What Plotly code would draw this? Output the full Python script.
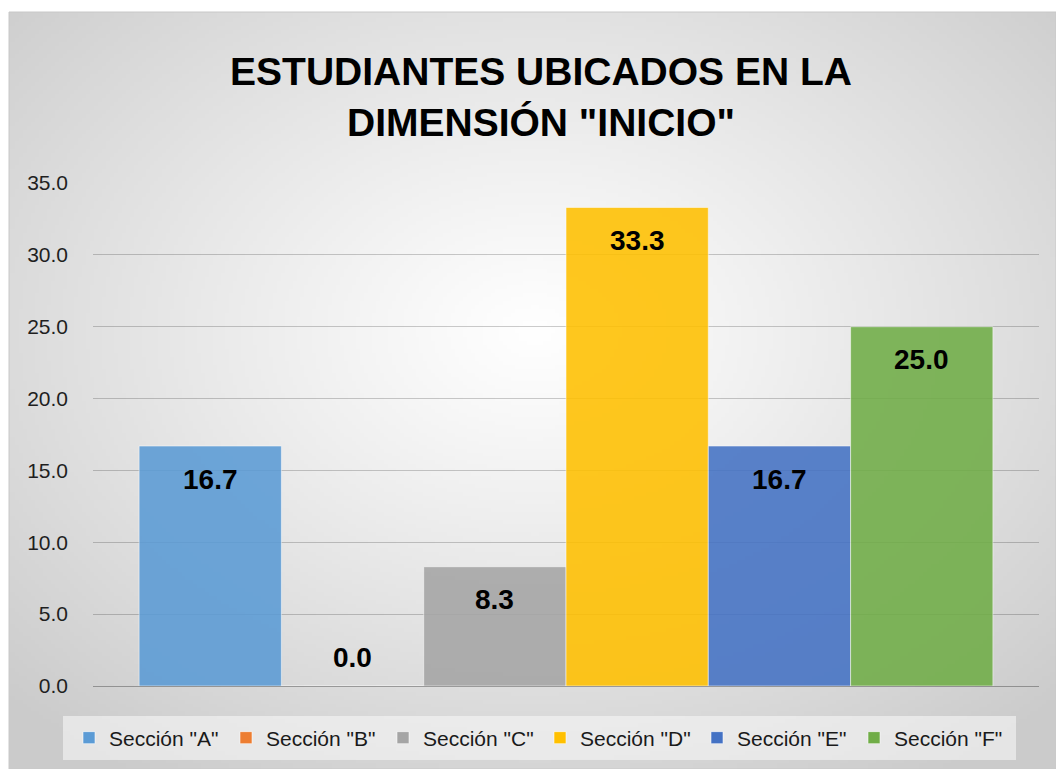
import base64, struct, zlib
import numpy as np
import plotly.graph_objects as go

# ---------------- data ----------------
series_names = ['Sección "A"', 'Sección "B"', 'Sección "C"', 'Sección "D"', 'Sección "E"', 'Sección "F"']
series_values = [16.7, 0.0, 8.3, 33.3, 16.7, 25.0]
series_colors = ["#5B9BD5", "#ED7D31", "#A5A5A5", "#FFC000", "#4472C4", "#70AD47"]
y_ticks = [0, 5, 10, 15, 20, 25, 30, 35]
y_tick_labels = ["0.0", "5.0", "10.0", "15.0", "20.0", "25.0", "30.0", "35.0"]
title_text = 'ESTUDIANTES UBICADOS EN LA<br>DIMENSIÓN "INICIO"'

W, H = 1056, 769

# ---------------- radial gradient background (PNG data URI) ----------------
def make_png(arr):
    h, w, _ = arr.shape
    raw = b"".join(b"\x00" + arr[r].tobytes() for r in range(h))
    def chunk(tag, data):
        c = struct.pack(">I", len(data)) + tag + data
        return c + struct.pack(">I", zlib.crc32(tag + data) & 0xFFFFFFFF)
    return (b"\x89PNG\r\n\x1a\n" + chunk(b"IHDR", struct.pack(">IIBBBBB", w, h, 8, 2, 0, 0, 0))
            + chunk(b"IDAT", zlib.compress(raw, 9)) + chunk(b"IEND", b""))

gw, gh = 264, 190
yy, xx = np.mgrid[0:gh, 0:gw]
cx, cy = gw * 0.50, gh * 0.42
d = np.sqrt(((xx - cx) / (gw / 2)) ** 2 + ((yy - cy) / (gh / 2)) ** 2) / np.sqrt(2)
d = np.clip(d, 0, 1)
val = 255 - 52 * d ** 1.1
img = np.clip(np.stack([val, val, val], axis=-1), 0, 255).astype(np.uint8)
bg_uri = "data:image/png;base64," + base64.b64encode(make_png(img)).decode()

# ---------------- figure ----------------
fig = go.Figure()
for i, (name, v, c) in enumerate(zip(series_names, series_values, series_colors)):
    fig.add_trace(go.Bar(
        x=[i], y=[v], name=name, width=1,
        marker=dict(color=c, opacity=0.88, line=dict(color="rgba(255,255,255,0.55)", width=1)),
        hoverinfo="name+y",
    ))
    fig.add_annotation(
        x=i, y=v, xref="x", yref="y", text=f"<b>{v:.1f}</b>", showarrow=False,
        yanchor="middle", yshift=(-33 if v > 0 else 29),
        font=dict(family="Liberation Sans", size=28, color="#000000"),
    )

x0px, x1px = 93, 1039
y0px, y1px = 686, 183
fig.update_layout(
    width=W, height=H,
    margin=dict(l=0, r=0, t=0, b=0, autoexpand=False),
    paper_bgcolor="white",
    plot_bgcolor="rgba(0,0,0,0)",
    barmode="overlay",
    showlegend=True,
    title=dict(text=title_text, x=541 / W, xanchor="center", y=1 - 85 / H, yanchor="middle",
               font=dict(family="Liberation Sans", size=39, color="#000000", weight="bold")),
    xaxis=dict(domain=[x0px / W, x1px / W], range=[-0.824, 5.824], showgrid=False,
               zeroline=False, showticklabels=False, ticks="", fixedrange=True),
    yaxis=dict(domain=[1 - y0px / H, 1 - y1px / H], range=[0, 35], tickvals=y_ticks,
               ticktext=y_tick_labels, showgrid=True, gridcolor="rgba(0,0,0,0.2)", gridwidth=1,
               zeroline=True, zerolinecolor="rgba(0,0,0,0.3)", zerolinewidth=1, ticks="",
               ticklabelstandoff=24,
               tickfont=dict(family="Liberation Sans", size=21, color="#1f1f1f")),
    legend=dict(orientation="h", xref="container", yref="container",
                x=540 / W, xanchor="center", y=1 - 738 / H, yanchor="middle",
                bgcolor="rgba(0,0,0,0)", entrywidth=112, entrywidthmode="pixels",
                font=dict(family="Liberation Sans", size=21, color="#1a1a1a"),
                itemclick=False, traceorder="normal"),
    images=[dict(source=bg_uri, xref="paper", yref="paper", x=9 / W, y=1 - 12 / H,
                 sizex=1 - 9 / W, sizey=1 - 12 / H, sizing="stretch", layer="below",
                 xanchor="left", yanchor="top")],
    shapes=[
        dict(type="rect", xref="paper", yref="paper", x0=63 / W, x1=1016 / W,
             y0=1 - 760 / H, y1=1 - 716 / H, line=dict(width=0),
             fillcolor="rgba(246,246,246,0.6)", layer="below"),
        dict(type="rect", xref="paper", yref="paper", x0=9 / W, x1=1, y0=0, y1=1 - 12 / H,
             line=dict(color="#c8c8c8", width=1), fillcolor="rgba(0,0,0,0)", layer="above"),
    ],
)

fig.write_html("out.html", config={"displayModeBar": False},
               post_script="document.body.style.margin='0';document.documentElement.style.overflow='hidden';")
